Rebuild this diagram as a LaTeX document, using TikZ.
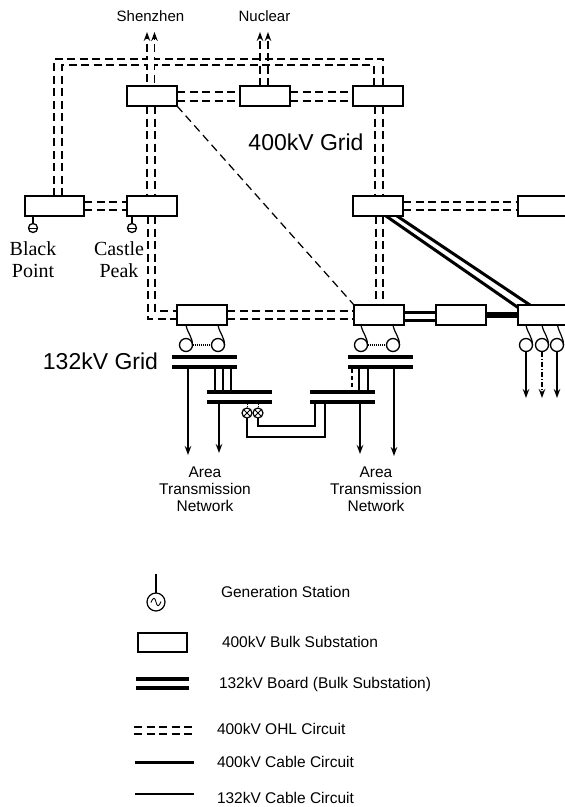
\documentclass[tikz,border=0pt]{standalone}
\usepackage{fontspec}
\setmainfont{Liberation Sans}
\newfontfamily\serifface{Liberation Serif}
\usetikzlibrary{arrows.meta,calc}
\tikzset{
  sub/.style={draw=black,line width=1.2pt,fill=white,rectangle,inner sep=0pt,outer sep=0pt,minimum width=50pt,minimum height=20pt},
  ohl/.style={draw=black,line width=1.25pt,dash pattern=on 8pt off 4.5pt},
  cab/.style={draw=black,line width=3pt},
  thinl/.style={draw=black,line width=1.2pt},
  arr/.style={-{Stealth[length=9pt,width=6.5pt]}},
  bar/.style={fill=black,rectangle,inner sep=0pt,outer sep=0pt,minimum width=65pt,minimum height=4.5pt},
  xfmr/.style={draw=black,line width=1.3pt,fill=white,circle,inner sep=0pt,outer sep=0pt,minimum size=13pt},
  gens/.style={draw=black,line width=1.3pt,fill=white,circle,inner sep=0pt,outer sep=0pt,minimum size=9pt},
  tie/.style={draw=black,line width=1.2pt,fill=white,circle,inner sep=0pt,outer sep=0pt,minimum size=10pt},
  lab/.style={font=\fontsize{15}{17}\selectfont,inner sep=0pt,outer sep=0pt,text=black},
  leg/.style={font=\fontsize{15.5}{17}\selectfont,inner sep=0pt,outer sep=0pt,anchor=base west,text=black},
  big/.style={font=\fontsize{23}{26}\selectfont,inner sep=0pt,outer sep=0pt,text=black},
  stn/.style={font=\serifface\fontsize{20}{22}\selectfont,inner sep=0pt,outer sep=0pt,align=center,text=black},
  area/.style={font=\fontsize{15.5}{17}\selectfont,inner sep=0pt,outer sep=0pt,align=center,text=black},
}
\begin{document}
\begin{tikzpicture}[x=1pt,y=-1pt]
\useasboundingbox (0,0) rectangle (565,807);
\clip (0,0) rectangle (565,807);
\fill[white] (0,0) rectangle (565,807);

% 400 kV substations
\node[sub] (t1) at (152,96) {};
\node[sub] (t2) at (265,96) {};
\node[sub] (t3) at (378,96) {};
\node[sub,minimum width=59pt] (bp) at (54.5,206) {};
\node[sub] (cp) at (152,206) {};
\node[sub,minimum width=50pt] (r) at (378,206) {};
\node[sub,minimum width=60pt] (fr) at (548,206) {};
\node[sub] (b1) at (202,315) {};
\node[sub] (b2) at (379,315) {};
\node[sub] (m) at (461,315) {};
\node[sub,minimum width=60pt] (far) at (548,315) {};

% way-points
\coordinate (sz1) at (147,32);
\coordinate (sz2) at (154.5,32);
\coordinate (nu1) at (260,32);
\coordinate (nu2) at (268,32);
\coordinate (railA) at (147,59);
\coordinate (railB) at (147,65);
\coordinate (railC) at (154.5,59);
\coordinate (railD) at (154.5,65);
\coordinate (lowA) at (148,319);
\coordinate (lowB) at (155,311);

% 400 kV OHL circuits
\draw[ohl,arr] ([xshift=-0.5]bp.north) |- (railA) -- (sz1);
\draw[ohl] ([xshift=7.5]bp.north) |- (railB) -- ([xshift=-5]t1.north);
\draw[ohl,arr] ([xshift=5]t3.north) |- (railC) -- (sz2);
\draw[ohl] ([xshift=-4]t3.north) |- (railD) -- ([xshift=2.5]t1.north);
\draw[ohl,arr] ([xshift=-5]t2.north) -- (nu1);
\draw[ohl,arr] ([xshift=3]t2.north) -- (nu2);
\draw[ohl] ([yshift=4]t1.east) -- ([yshift=4]t2.west);
\draw[ohl] ([yshift=-5]t1.east) -- ([yshift=-5]t2.west);
\draw[ohl] ([yshift=4]t2.east) -- ([yshift=4]t3.west);
\draw[ohl] ([yshift=-5]t2.east) -- ([yshift=-5]t3.west);
\draw[ohl] ([yshift=4]bp.east) -- ([yshift=4]cp.west);
\draw[ohl] ([yshift=-4]bp.east) -- ([yshift=-4]cp.west);
\draw[ohl] ([xshift=-5]t1.south) -- ([xshift=-5]cp.north);
\draw[ohl] ([xshift=3]t1.south) -- ([xshift=3]cp.north);
\draw[ohl] ([xshift=-4]cp.south) |- (lowA) -- ([yshift=-4]b1.west);
\draw[ohl] ([xshift=3]cp.south) |- (lowB) -- ([yshift=4]b1.west);
\draw[ohl] ([yshift=4]b1.east) -- ([yshift=4]b2.west);
\draw[ohl] ([yshift=-4]b1.east) -- ([yshift=-4]b2.west);
\draw[ohl] ([xshift=-3]t3.south) -- ([xshift=-3]r.north);
\draw[ohl] ([xshift=5]t3.south) -- ([xshift=5]r.north);
\draw[ohl] ([xshift=-2]r.south) -- ([xshift=-3]b2.north);
\draw[ohl] ([xshift=5]r.south) -- ([xshift=4]b2.north);
\draw[ohl] ([yshift=4]r.east) -- ([yshift=4]fr.west);
\draw[ohl] ([yshift=-4]r.east) -- ([yshift=-4]fr.west);
\draw[ohl,dash pattern=on 8pt off 5pt] (t1.south east) -- (b2.north west);

% 400 kV cables
\draw[cab] ([xshift=8]r.south) -- ([yshift=7.5]far.west);
\draw[cab] ([xshift=19]r.south) -- ([xshift=-18]far.north);
\draw[cab] ([yshift=3]b2.east) -- ([yshift=3]m.west);
\draw[cab] ([yshift=-5]b2.east) -- ([yshift=-5]m.west);
\draw[draw=black,line width=5.5pt] (m.east) -- (far.west);

% substation outlines above the cable ends
\node[sub] (b2o) at (b2) {};
\node[sub] (mo) at (m) {};
\node[sub,minimum width=60pt] (faro) at (far) {};
\node[sub,minimum width=50pt] (ro) at (r) {};

% transformers at 132 kV grid points
\node[xfmr] (x1) at (186,345) {};
\node[xfmr] (x2) at (218,345) {};
\node[xfmr] (x3) at (361,345) {};
\node[xfmr] (x4) at (393,345) {};
\node[xfmr] (f1) at (526,345) {};
\node[xfmr] (f2) at (542,345) {};
\node[xfmr] (f3) at (557,345) {};
\draw[thinl] ([xshift=-16]b1.south) to[out=-80,in=90] (x1.east);
\draw[thinl] ([xshift=16]b1.south) to[out=-80,in=90] (x2.east);
\draw[thinl] ([xshift=-18]b2.south) to[out=-80,in=90] (x3.east);
\draw[thinl] ([xshift=14]b2.south) to[out=-80,in=90] (x4.east);
\draw[thinl] ([xshift=-22]far.south) to[out=-80,in=90] (f1.east);
\draw[thinl] ([xshift=-6]far.south) to[out=-80,in=90] (f2.east);
\draw[thinl] ([xshift=9.5]far.south) to[out=-80,in=90] (f3.east);
\draw[line width=1.1pt,densely dotted] (x1.east) -- (x2.west);
\draw[line width=1.1pt,densely dotted] (x3.east) -- (x4.west);

\coordinate (af1) at (526,398);
\coordinate (af2) at (542,398);
\coordinate (af3) at (557,398);
\draw[thinl,arr] (f1.south) -- (af1);
\draw[line width=1.2pt,arr,dash pattern=on 5pt off 2pt on 1pt off 2pt] (f2.south) -- (af2);
\draw[thinl,arr] (f3.south) -- (af3);

% 132 kV boards
\node[bar] (b1a) at (204.5,357) {};
\node[bar] (b1b) at (204.5,367) {};
\node[bar] (b2a) at (380,357) {};
\node[bar] (b2b) at (380,367) {};
\node[bar] (l2a) at (239,392) {};
\node[bar] (l2b) at (239,402) {};
\node[bar] (r2a) at (342,392) {};
\node[bar] (r2b) at (342,402) {};

\draw[thinl] ([xshift=10.5]b1b.south) -- ([xshift=-24]l2a.north);
\draw[thinl] ([xshift=18.5]b1b.south) -- ([xshift=-16]l2a.north);
\draw[thinl] ([xshift=26.5]b1b.south) -- ([xshift=-8]l2a.north);
\draw[line width=1.2pt,dash pattern=on 4pt off 3pt] ([xshift=-28]b2b.south) -- ([xshift=10]r2a.north);
\draw[thinl] ([xshift=-21]b2b.south) -- ([xshift=17]r2a.north);
\draw[thinl] ([xshift=-12]b2b.south) -- ([xshift=26]r2a.north);

\coordinate (a1) at (188,455);
\coordinate (a2) at (219,453);
\coordinate (a3) at (360,454);
\coordinate (a4) at (394,456);
\draw[thinl,arr] ([xshift=-16.5]b1b.south) -- (a1);
\draw[thinl,arr] ([xshift=-20]l2b.south) -- (a2);
\draw[thinl,arr] ([xshift=18]r2b.south) -- (a3);
\draw[thinl,arr] ([xshift=14]b2b.south) -- (a4);

% tie circuit
\node[tie] (tie1) at (247,413) {};
\node[tie] (tie2) at (258,413) {};
\draw[line width=0.8pt] (tie1.north west) -- (tie1.south east) (tie1.north east) -- (tie1.south west);
\draw[line width=0.8pt] (tie2.north west) -- (tie2.south east) (tie2.north east) -- (tie2.south west);
\draw[line width=0.9pt,densely dotted] ([xshift=8]l2b.south) -- (tie1.north);
\draw[line width=0.9pt,densely dotted] ([xshift=19]l2b.south) -- (tie2.north);
\coordinate (tieA) at (325,437);
\coordinate (tieB) at (315,426);
\draw[thinl] (tie1.south) |- (tieA) -- ([xshift=-17]r2b.south);
\draw[thinl] (tie2.south) |- (tieB) -- ([xshift=-27]r2b.south);

% generators
\node[gens] (g1) at (33,228) {};
\node[gens] (g2) at (132,228) {};
\draw[thinl] ([xshift=-21.5]bp.south) -- (g1.north);
\draw[thinl] ([xshift=-20]cp.south) -- (g2.north);
\draw[line width=1pt] (g1.west) -- (g1.east);
\draw[line width=1pt] (g2.west) -- (g2.east);

% labels
\node[lab,anchor=base] (lsz) at (150.5,21.5) {Shenzhen};
\node[lab,anchor=base] (lnu) at (264.5,21.5) {Nuclear};
\node[big,anchor=base] (l400) at (306,150) {400kV Grid};
\node[big,anchor=base east] (l132) at (158,369) {132kV Grid};
\node[stn] (lbp) at (33,259.5) {Black\\Point};
\node[stn] (lcp) at (119,259.5) {Castle\\Peak};
\node[area] (la1) at (205,489) {Area\\Transmission\\Network};
\node[area] (la2) at (376,489) {Area\\Transmission\\Network};

% legend
\node[draw=black,line width=1.2pt,circle,inner sep=0pt,outer sep=0pt,minimum size=18pt] (kg) at (156,602) {};
\coordinate (kgt) at (156,574);
\draw[thinl] (kgt) -- (kg.north);
\draw[line width=0.9pt] ($(kg.center)+(-5,0.5)$) .. controls ($(kg.center)+(-3,-5)$) and ($(kg.center)+(-1,-5)$) .. ($(kg.center)+(0,0)$) .. controls ($(kg.center)+(1,5)$) and ($(kg.center)+(3,5)$) .. ($(kg.center)+(5,-0.5)$);
\node[leg] (kgl) at (221,597) {Generation Station};
\node[sub,minimum width=49pt,minimum height=19pt] (ks) at (162.5,642.5) {};
\node[leg] (ksl) at (222,647) {400kV Bulk Substation};
\node[bar,minimum width=53pt] (kb1) at (162.5,679) {};
\node[bar,minimum width=53pt] (kb2) at (162.5,688) {};
\node[leg] (kbl) at (219,688) {132kV Board (Bulk Substation)};
\coordinate (ko1a) at (134,727);
\coordinate (ko1b) at (194,727);
\coordinate (ko2a) at (134,734);
\coordinate (ko2b) at (194,734);
\draw[ohl] (ko1a) -- (ko1b);
\draw[ohl] (ko2a) -- (ko2b);
\node[leg] (kol) at (217,734) {400kV OHL Circuit};
\coordinate (kca) at (135,762);
\coordinate (kcb) at (194,762);
\draw[cab] (kca) -- (kcb);
\node[leg] (kcl) at (217,767) {400kV Cable Circuit};
\coordinate (kda) at (135,794);
\coordinate (kdb) at (194,794);
\draw[thinl] (kda) -- (kdb);
\node[leg] (kdl) at (217,803) {132kV Cable Circuit};
\end{tikzpicture}
\end{document}
